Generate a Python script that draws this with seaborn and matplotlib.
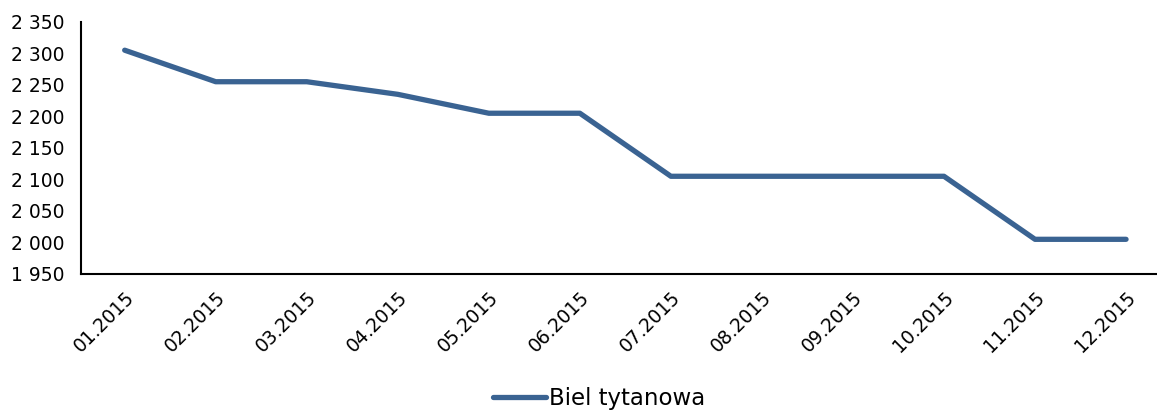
import pandas as pd
import matplotlib
matplotlib.use('Agg')
import matplotlib.pyplot as plt
import matplotlib.ticker as mticker
import seaborn as sns

# Data
months = ['01.2015', '02.2015', '03.2015', '04.2015', '05.2015', '06.2015',
          '07.2015', '08.2015', '09.2015', '10.2015', '11.2015', '12.2015']
prices = [2305, 2255, 2255, 2235, 2205, 2205, 2105, 2105, 2105, 2105, 2005, 2005]
series_name = 'Biel tytanowa'

df = pd.DataFrame({'month': months, 'price': prices})

sns.set_theme(style='white')
plt.rcParams['font.family'] = ['DejaVu Sans']

fig = plt.figure(figsize=(11.57, 4.12), dpi=100)
ax = fig.add_axes([0.070, 0.335, 0.930, 0.612])

sns.lineplot(data=df, x='month', y='price', ax=ax, color='#3A6392',
             linewidth=3.8, label=series_name, solid_capstyle='round')

ax.set_ylim(1950, 2350)
ax.set_yticks(range(1950, 2351, 50))
ax.yaxis.set_major_formatter(mticker.FuncFormatter(lambda v, p: f'{int(v):,}'.replace(',', ' ')))
ax.set_xlim(-0.48, 11.34)
ax.set_xlabel('')
ax.set_ylabel('')

#Tick labels
plt.setp(ax.get_xticklabels(), rotation=45, ha='right', rotation_mode='anchor', fontsize=13.5)
plt.setp(ax.get_yticklabels(), fontsize=13.5)
ax.tick_params(axis='y', length=0, pad=12, colors='black')
ax.tick_params(axis='x', length=0, pad=10, colors='black')

#Spines
for s in ['top', 'right']:
    ax.spines[s].set_visible(False)
for s in ['left', 'bottom']:
    ax.spines[s].set_color('black')
    ax.spines[s].set_linewidth(1.5)

leg = ax.legend(loc='lower center', bbox_to_anchor=(0.518, -0.045), bbox_transform=fig.transFigure,
                frameon=False, fontsize=16.5, handlelength=2.3, handletextpad=0.15)
for t in leg.get_texts():
    t.set_color('black')

plt.savefig('out.png', dpi=100)
